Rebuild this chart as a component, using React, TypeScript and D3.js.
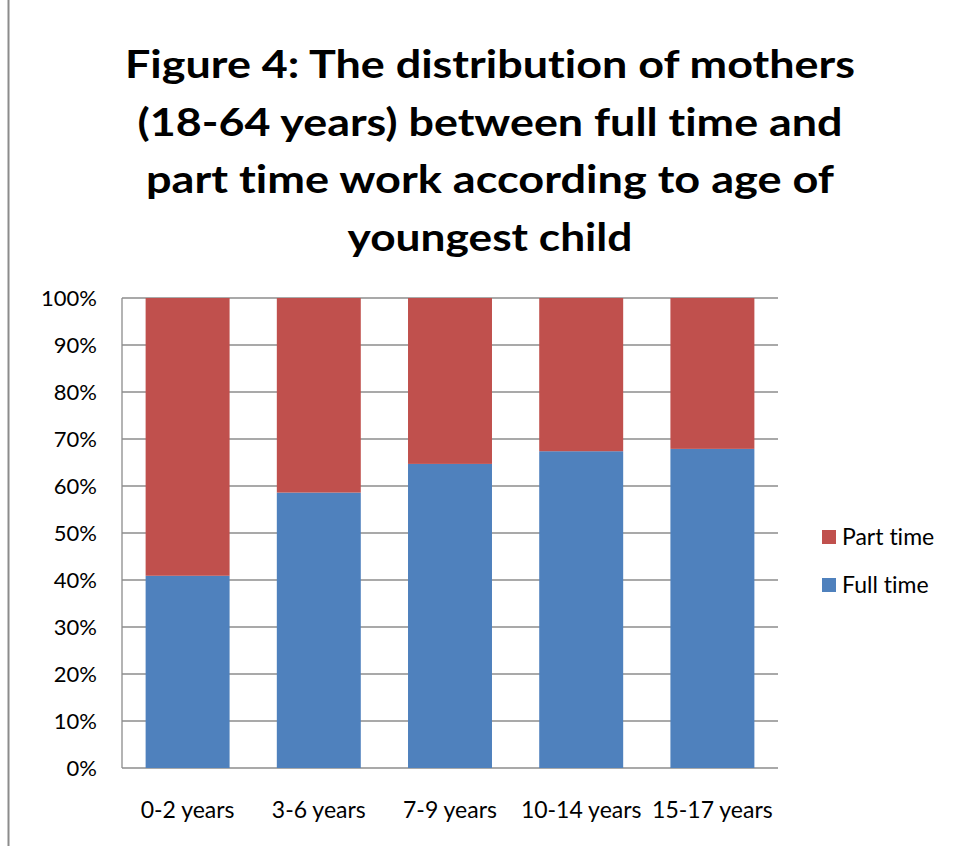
import React from "react";
import * as d3 from "d3";

const categories = ["0-2 years", "3-6 years", "7-9 years", "10-14 years", "15-17 years"];
const fullTime = [40.9, 58.6, 64.7, 67.4, 67.9];
const partTime = fullTime.map((v) => 100 - v);
const yTicks = [0, 10, 20, 30, 40, 50, 60, 70, 80, 90, 100];
const titleLines = [
  "Figure 4: The distribution of mothers",
  "(18-64 years) between full time and",
  "part time work according to age of",
  "youngest child",
];
const titleWidths = [730, 705, 688, 285];
const seriesNames = ["Part time", "Full time"];

const W = 957;
const H = 846;
const plot = { left: 122, right: 778, top: 298, bottom: 768 };
const BLUE = "#4F81BD";
const RED = "#C0504D";
const FONT = "Lato, 'Open Sans', sans-serif";

export default function App() {
  const x = d3
    .scaleBand<string>()
    .domain(categories)
    .range([plot.left, plot.right])
    .paddingInner(0.36)
    .paddingOuter(0.18);
  const y = d3.scaleLinear().domain([0, 100]).range([plot.bottom, plot.top]);

  const stacked = categories.map((c, i) => ({ c, full: fullTime[i], part: partTime[i] }));
  const stack = d3.stack<any>().keys(["full", "part"])(stacked);
  const colors: Record<string, string> = { full: BLUE, part: RED };

  return (
    <svg
      width={W}
      height={H}
      style={{ position: "absolute", left: 0, top: 0, background: "#fff", fontVariantLigatures: "none" }}
    >
      <rect x={0} y={0} width={W} height={H} fill="#fff" />
      <line x1={8.5} x2={8.5} y1={0} y2={H} stroke="#8c8c8c" strokeWidth={2} />
      {titleLines.map((t, i) => (
        <text
          key={i}
          x={490}
          y={78 + i * 57.5}
          textAnchor="middle"
          fontFamily={FONT}
          fontWeight={700}
          fontSize={39}
          fill="#000"
          textLength={titleWidths[i]}
          lengthAdjust="spacingAndGlyphs"
          style={{ fontVariantLigatures: "none" }}
        >
          {t}
        </text>
      ))}
      {/* gridlines */}
      {yTicks.map((t) => (
        <line
          key={t}
          x1={plot.left}
          x2={plot.right}
          y1={y(t)}
          y2={y(t)}
          stroke="#8c8c8c"
          strokeWidth={1.3}
        />
      ))}
      <line x1={plot.left} x2={plot.left} y1={plot.top} y2={plot.bottom} stroke="#8c8c8c" strokeWidth={1.3} />
      {/* bars */}
      {stack.map((s) =>
        s.map((d, i) => (
          <rect
            key={s.key + i}
            x={x(categories[i])}
            width={x.bandwidth()}
            y={y(d[1])}
            height={y(d[0]) - y(d[1])}
            fill={colors[s.key]}
          />
        ))
      )}
      {/* y labels */}
      {yTicks.map((t) => (
        <text
          key={t}
          x={97}
          y={y(t)}
          dy="0.36em"
          textAnchor="end"
          fontFamily={FONT}
          fontSize={22}
          fill="#000"
        >
          {t}%
        </text>
      ))}
      {/* x labels */}
      {categories.map((c) => (
        <text
          key={c}
          x={(x(c) as number) + x.bandwidth() / 2}
          y={818}
          textAnchor="middle"
          fontFamily={FONT}
          fontSize={23}
          fill="#000"
        >
          {c}
        </text>
      ))}
      {/* legend */}
      {seriesNames.map((n, i) => (
        <g key={n} transform={`translate(822, ${537 + i * 48})`}>
          <rect x={0} y={-7} width={14} height={14} fill={i === 0 ? RED : BLUE} />
          <text x={20} y={0} dy="0.36em" fontFamily={FONT} fontSize={23} fill="#000">
            {n}
          </text>
        </g>
      ))}
    </svg>
  );
}
